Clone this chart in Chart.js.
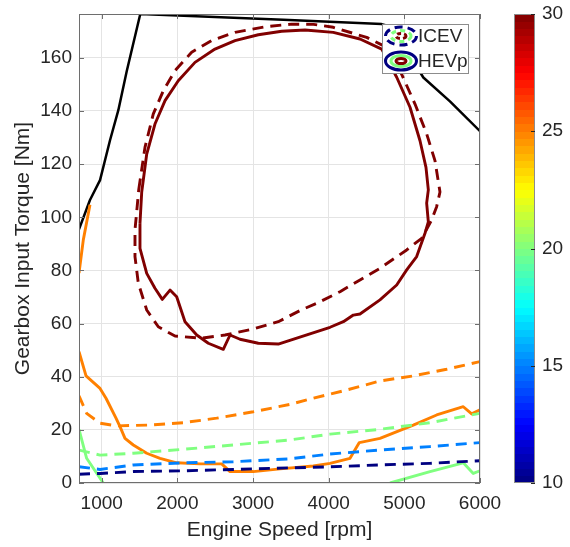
<!DOCTYPE html>
<html>
<head>
<meta charset="utf-8">
<script src="https://cdn.jsdelivr.net/npm/chart.js@4"></script>
<style>
  body { margin: 0; background: #fff; }
  #wrap { width: 570px; height: 547px; }
</style>
</head>
<body>
<div id="wrap"><canvas id="myChart"></canvas></div>
<script>
// axis ticks
const rpmTicks = [1000, 2000, 3000, 4000, 5000, 6000];
const torqueTicks = [0, 20, 40, 60, 80, 100, 120, 140, 160];
const barTicks = [10, 15, 20, 25, 30];

// full load curve
const maxRpm = [700, 845, 978, 1110, 1220, 1330, 1510, 3400, 4700, 4850, 5251, 5603, 6000];
const maxTorque = [95.5, 106.5, 114, 129, 140.3, 154.9, 176.5, 174.3, 172.7, 171.5, 152.6, 143.6, 132.4];

// ICEV contours (dashed)
const icev30Rpm = [1490, 1572, 1682, 1814, 1969, 2189, 2454, 2762, 3158, 3511, 3800, 4061, 4502, 4722, 4943, 5141, 5295, 5405, 5471, 5427, 5361, 5229, 5031, 4678, 4414, 4150, 3841, 3650, 3334, 2983, 2630, 2322, 1969, 1748, 1595, 1484, 1440, 1440, 1490];
const icev30Torque = [110.5, 126.3, 138.9, 147.6, 155.2, 162.1, 166.5, 169.6, 171.7, 172.7, 172.6, 171.5, 167.7, 164.6, 155.2, 142.6, 131.4, 121.3, 109.5, 104, 99, 92.1, 87.7, 80.8, 76.4, 72, 67.6, 65.3, 60.7, 57.8, 55.7, 54.5, 55.3, 58.8, 65.1, 75.2, 85.2, 95.2, 110.5];
const icev25Rpm = [700, 801, 978, 1198, 1638, 2079, 2520, 3004, 3489, 3797, 4238, 4678, 5118, 5559, 6000];
const icev25Torque = [32.8, 26.2, 22.5, 21.5, 21.8, 22.7, 24.4, 26.8, 29.6, 31.9, 35, 38.4, 40.3, 42.8, 45.7];
const icev20Rpm = [700, 978, 1418, 2079, 2739, 3489, 4018, 4678, 5339, 6000];
const icev20Torque = [12.4, 10.5, 11.2, 12.7, 14.3, 16.2, 18.4, 20.2, 22.7, 26.2];
const icev15Rpm = [700, 978, 1418, 2079, 2739, 3489, 4018, 4678, 5339, 6000];
const icev15Torque = [6.1, 5.1, 6.8, 7.6, 8.0, 9.1, 10.9, 12.4, 13.7, 15.2];
const icev10Rpm = [700, 978, 1418, 2079, 2739, 3489, 4018, 4678, 5339, 6000];
const icev10Torque = [3.3, 3.6, 4.3, 4.6, 5.1, 5.7, 6.1, 6.8, 7.4, 8.4];

// HEVp contours (solid)
const hevp30Rpm = [1506, 1529, 1595, 1704, 1837, 2012, 2233, 2497, 2762, 3070, 3379, 3687, 4061, 4414, 4701, 4899, 5075, 5207, 5286, 5317, 5295, 5317, 5273, 5163, 5031, 4899, 4678, 4414, 4326, 4194, 4018, 3650, 3334, 3070, 2828, 2696, 2607, 2409, 2256, 2101, 1991, 1903, 1801, 1704, 1595, 1506, 1506];
const hevp30Torque = [97.7, 109.5, 123.8, 135.1, 143.9, 151.4, 158.3, 163.3, 166.5, 168.7, 170.0, 170.5, 169.6, 167.1, 163.3, 152.7, 141.4, 128.8, 118.8, 110.3, 105.3, 98.3, 94, 85.2, 80.2, 74.5, 68.9, 63.6, 63.2, 60.7, 58.6, 55.2, 52.3, 52.6, 54.1, 55.7, 50.3, 52.6, 55.7, 60.7, 70.1, 72.6, 69.1, 73.3, 78.9, 88.3, 97.7];
const hevp25aRpm = [700, 757, 845];
const hevp25aTorque = [79, 91.5, 104.7];
const hevp25bRpm = [700, 793, 978, 1057, 1189, 1242, 1308, 1418, 1595, 1771, 1991, 2299, 2586, 2696, 3004, 3357, 3797, 4018, 4282, 4405, 4678, 5118, 5427, 5779, 5890, 6000];
const hevp25bTorque = [49.4, 40.3, 35.6, 31.9, 24.4, 21.2, 16.8, 14.3, 11.2, 9.3, 7.6, 7.2, 7.2, 4.3, 4.3, 5.3, 6.4, 7.4, 9.3, 15.2, 16.8, 21.8, 25.6, 28.7, 26, 27.5];
const hevp20aRpm = [700, 801, 1021];
const hevp20aTorque = [20.2, 9.3, 0];
const hevp20bRpm = [4811, 5339, 5779, 5911, 6000];
const hevp20bTorque = [0, 4.3, 7.6, 3.6, 4.6];

// jet colormap, t in [0,1]
function jet(t) {
    const c = v => Math.round(255 * Math.max(0, Math.min(1, v)));
    return 'rgb(' + c(1.5 - Math.abs(4 * t - 3)) + ',' + c(1.5 - Math.abs(4 * t - 2)) + ',' + c(1.5 - Math.abs(4 * t - 1)) + ')';
}
const levelColor = lvl => jet((lvl - 10) / 20);

const DASH = [11, 7];
function curve(rpm, torque, color, dashed, width) {
    return {
        data: rpm.map((x, i) => ({ x: x, y: torque[i] })),
        borderColor: color,
        borderWidth: width || 2.9,
        borderDash: dashed ? DASH : [],
        borderJoinStyle: 'round',
        showLine: true,
        pointRadius: 0,
        tension: 0,
        fill: false,
    };
}

const FONT = 'Liberation Sans, Arial, Helvetica, sans-serif';
const TEXT = '#262626';

// plot frame with inward ticks
const frame = {
    id: 'frame',
    afterDatasetsDraw(chart) {
        const { ctx, chartArea: a, scales } = chart;
        ctx.save();
        ctx.strokeStyle = '#6e6e6e';
        ctx.lineWidth = 1;
        ctx.strokeRect(a.left + 0.5, a.top + 0.5, a.right - a.left - 1, a.bottom - a.top - 1);
        ctx.beginPath();
        rpmTicks.forEach(v => {
            const x = Math.round(scales.x.getPixelForValue(v)) + 0.5;
            ctx.moveTo(x, a.bottom); ctx.lineTo(x, a.bottom - 5);
            ctx.moveTo(x, a.top); ctx.lineTo(x, a.top + 5);
        });
        torqueTicks.forEach(v => {
            const y = Math.round(scales.y.getPixelForValue(v)) + 0.5;
            ctx.moveTo(a.left, y); ctx.lineTo(a.left + 5, y);
            ctx.moveTo(a.right, y); ctx.lineTo(a.right - 5, y);
        });
        ctx.stroke();
        ctx.restore();
    }
};

// in-axes legend with contour style icons
const contourLegend = {
    id: 'contourLegend',
    afterDatasetsDraw(chart) {
        const { ctx, chartArea: a } = chart;
        const w = 87, h = 50;
        const x0 = a.right - 11 - w, y0 = a.top + 10;
        ctx.save();
        ctx.fillStyle = '#fff';
        ctx.fillRect(x0, y0, w, h);
        ctx.strokeStyle = '#8c8c8c';
        ctx.lineWidth = 1;
        ctx.strokeRect(x0 + 0.5, y0 + 0.5, w - 1, h - 1);

        const rows = [{ label: 'ICEV', dashed: true }, { label: 'HEVp', dashed: false }];
        rows.forEach((r, i) => {
            const cx = x0 + 19, cy = y0 + 12 + i * 25;
            const rings = [
                [15.5, 9, levelColor(10), [8, 5]],
                [10, 5.5, levelColor(20), [5, 4]],
                [5, 2.6, levelColor(30), [4, 3]],
            ];
            rings.forEach(([rx, ry, col, d]) => {
                ctx.beginPath();
                ctx.ellipse(cx, cy, rx, ry, 0, 0, Math.PI * 2);
                ctx.strokeStyle = col;
                ctx.lineWidth = 3;
                ctx.setLineDash(r.dashed ? d : []);
                ctx.stroke();
            });
            ctx.setLineDash([]);
            ctx.fillStyle = TEXT;
            ctx.font = '19px ' + FONT;
            ctx.textBaseline = 'middle';
            ctx.textAlign = 'left';
            ctx.fillText(r.label, x0 + 36, cy + 1);
        });
        ctx.restore();
    }
};

// jet colour bar next to the plot
const colorBar = {
    id: 'colorBar',
    afterDraw(chart) {
        const { ctx } = chart;
        const s = chart.scales.cb;
        const left = s.left + 34, width = 21;
        const n = 64;
        ctx.save();
        for (let i = 0; i < n; i++) {
            const v0 = 10 + 20 * i / n, v1 = 10 + 20 * (i + 1) / n;
            const yTop = s.getPixelForValue(v1), yBot = s.getPixelForValue(v0);
            ctx.fillStyle = jet((i + 0.5) / n);
            ctx.fillRect(left, Math.floor(yTop), width, Math.ceil(yBot) - Math.floor(yTop));
        }
        ctx.strokeStyle = '#8c8c8c';
        ctx.lineWidth = 1;
        ctx.strokeRect(left + 0.5, s.top + 0.5, width - 1, s.bottom - s.top - 1);
        ctx.strokeStyle = '#262626';
        ctx.beginPath();
        barTicks.forEach(v => {
            const y = Math.round(s.getPixelForValue(v)) + 0.5;
            ctx.moveTo(left + width, y); ctx.lineTo(left + width - 4, y);
        });
        ctx.stroke();
        ctx.restore();
    }
};

const plain = v => String(v);

const ctx = document.getElementById('myChart');
new Chart(ctx, {
    type: 'scatter',
    data: {
        datasets: [
            curve(icev10Rpm, icev10Torque, levelColor(10), true),
            curve(icev15Rpm, icev15Torque, levelColor(15), true),
            curve(icev20Rpm, icev20Torque, levelColor(20), true),
            curve(icev25Rpm, icev25Torque, levelColor(25), true),
            curve(icev30Rpm, icev30Torque, levelColor(30), true),
            curve(hevp20aRpm, hevp20aTorque, levelColor(20), false),
            curve(hevp20bRpm, hevp20bTorque, levelColor(20), false),
            curve(hevp25aRpm, hevp25aTorque, levelColor(25), false),
            curve(hevp25bRpm, hevp25bTorque, levelColor(25), false),
            curve(hevp30Rpm, hevp30Torque, levelColor(30), false),
            curve(maxRpm, maxTorque, '#000000', false, 2.5),
        ]
    },
    options: {
        responsive: true,
        maintainAspectRatio: false,
        animation: false,
        layout: { padding: { top: 14, left: 0, right: 0, bottom: 0 } },
        scales: {
            x: {
                type: 'linear',
                min: 700,
                max: 6000,
                afterBuildTicks: s => { s.ticks = rpmTicks.map(v => ({ value: v })); },
                afterFit: s => { s.height = 64; s.paddingLeft = 0; s.paddingRight = 0; },
                grid: { color: '#e4e4e4', drawTicks: false },
                border: { display: false },
                ticks: { color: TEXT, font: { family: FONT, size: 19 }, padding: 9, maxRotation: 0, callback: plain },
                title: {
                    display: true,
                    text: 'Engine Speed [rpm]',
                    color: TEXT,
                    font: { family: FONT, size: 21 },
                    padding: { top: 0, bottom: 4 }
                }
            },
            y: {
                type: 'linear',
                min: 0,
                max: 176.5,
                afterBuildTicks: s => { s.ticks = torqueTicks.map(v => ({ value: v })); },
                afterFit: s => { s.width = 79; s.paddingTop = 0; s.paddingBottom = 0; },
                grid: { color: '#e4e4e4', drawTicks: false },
                border: { display: false },
                ticks: { color: TEXT, font: { family: FONT, size: 19 }, padding: 7, callback: plain },
                title: {
                    display: true,
                    text: 'Gearbox Input Torque [Nm]',
                    color: TEXT,
                    font: { family: FONT, size: 21 },
                    padding: { top: 11, bottom: 0 }
                }
            },
            cb: {
                type: 'linear',
                position: 'right',
                min: 10,
                max: 30,
                afterBuildTicks: s => { s.ticks = barTicks.map(v => ({ value: v })); },
                afterFit: s => { s.width = 90; s.paddingTop = 0; s.paddingBottom = 0; },
                grid: { display: false, drawTicks: false },
                border: { display: false },
                ticks: { color: TEXT, font: { family: FONT, size: 19 }, padding: 62, callback: plain }
            }
        },
        plugins: {
            legend: { display: false },
            tooltip: { enabled: false }
        }
    },
    plugins: [frame, contourLegend, colorBar]
});
</script>
</body>
</html>
